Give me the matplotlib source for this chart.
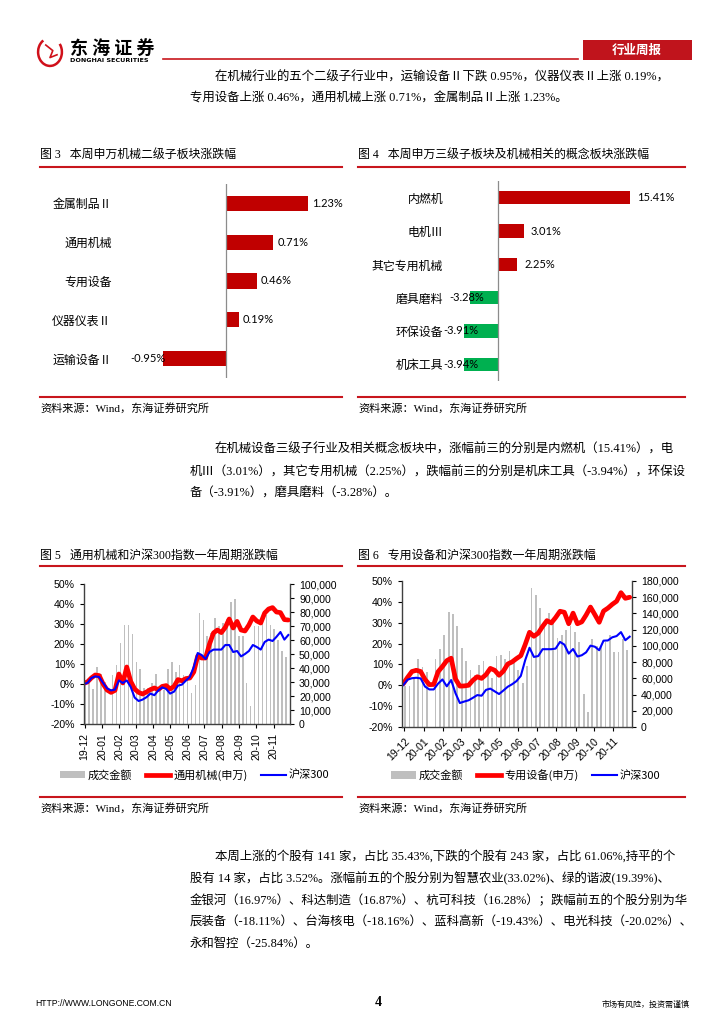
import matplotlib
matplotlib.use('Agg')
import matplotlib.pyplot as plt
import matplotlib.dates as mdates
from matplotlib.lines import Line2D
from matplotlib.patches import Rectangle, Patch, Arc
from matplotlib.ticker import FuncFormatter, MultipleLocator
import numpy as np
import pandas as pd

CJK = ['Noto Sans CJK SC', 'DejaVu Sans']
SERIF = ['Liberation Serif', 'Noto Sans CJK SC']
SANS = ['Liberation Sans', 'Noto Sans CJK SC']
plt.rcParams['font.family'] = SANS
plt.rcParams['axes.unicode_minus'] = False

# 图3 二级子板块
cats3 = ['金属制品Ⅱ', '通用机械', '专用设备', '仪器仪表Ⅱ', '运输设备Ⅱ']
vals3 = [1.23, 0.71, 0.46, 0.19, -0.95]

# 图4 三级子板块及概念板块
cats4 = ['内燃机', '电机Ⅲ', '其它专用机械', '磨具磨料', '环保设备', '机床工具']
vals4 = [15.41, 3.01, 2.25, -3.28, -3.91, -3.94]

# 图5 / 图6 周度数据
line_dates = pd.date_range('2019-11-29', periods=53, freq='7D')
bar_dates = pd.date_range('2019-12-02', periods=52, freq='7D')

red5 = [0.3, 1, 3, 4.5, 4.2, 0, -3, -4.2, -3.2, 5,
        0.5, 8.5, 1.3, -2.5, -4.2, -5, -4, -2.8, -2, -2.8,
        -1.2, -0.8, -2.5, -1.2, 2.2, 1.6, 2.7, 3, 6, 14,
        13, 13, 20, 25.5, 27, 25.7, 28.3, 32.5, 28, 31.3,
        27, 26.5, 29.5, 33.5, 31.5, 30.5, 35.5, 37.5, 38.2, 36,
        35.7, 32.2, 32]
blue5 = [0, 0.5, 3, 3.8, 3.5, 0.5, -2.2, -3.2, -2.8, 1.8,
         0.5, 1.8, -1.5, -6.8, -8.5, -7.8, -6.6, -4.8, -5.6, -3.2,
         -1.7, -2.5, -4.8, -3.8, -0.8, -0.3, 1.7, 3.5, 8.5, 15.5,
         14.5, 12.5, 16, 17.2, 17.2, 17.2, 19.5, 19.5, 16, 16.5,
         13.8, 15, 16.5, 19.5, 18.5, 17.2, 21, 22.2, 21.5, 23.6,
         26, 22.2, 24.5]
vol5_k = [29, 33, 25, 41, 36, 30, np.nan, 35, 42, 58,
          71, 71, 64, 44, 39, 26, 26, 29, 36, 27,
          24, 39, 44, 37, 42, 35, 34, 22, 28, 79,
          74, 63, 65, 76, 70, 72, 75, 87, 89, 63,
          63, 29, 13, 70, 70, 74, 78, 71, 68, 60,
          52, 48]

red6 = [0.7, 3.8, 6.6, 7.2, 6.6, 2.8, 0.3, 0.4, 6.5, 9,
        11.8, 13, 3, -0.4, -0.3, 0, 2.4, 4.1, 3.3, 5.1,
        8.1, 7.2, 4.8, 6.8, 10.2, 11.2, 12.8, 14.2, 19.5, 25.4,
        23.5, 25, 28.2, 31, 29.9, 32.5, 35.5, 35, 29.5, 34.6,
        29.5, 30.4, 33.7, 37.5, 33.9, 30.2, 35.6, 37, 38.8, 40.3,
        44.4, 41.7, 42.2]
blue6 = [0.1, 2.7, 3.4, 3.6, 3.3, -0.6, -2, -2, 0.8, 2.8,
         -0.5, 2.5, -3.8, -8.5, -7.8, -7.2, -6, -4.7, -5, -2.2,
         -1.6, -2.9, -4.2, -2.5, -0.7, 0.5, 2, 4.5, 12, 18,
         13.6, 14, 17.3, 17.3, 17.3, 17.6, 20.8, 19.5, 15.2, 17.4,
         13.8, 14.4, 15.8, 19, 18.5, 16.8, 21.4, 21.5, 23, 23.6,
         25.5, 21.6, 23.3]
vol6_k = [50, 51, 60, 84, 74, 68, np.nan, 84, 96, 114,
          142, 139, 125, 97, 81, 70, 64, 77, 81, 72,
          60, 87, 89, 84, 94, 79, 70, 54, 75, 171,
          163, 147, 125, 140, 132, 110, 114, 120, 125, 117,
          105, 41, 19, 108, 100, 100, 105, 113, 93, 93,
          108, 95]

para1 = ['在机械行业的五个二级子行业中，运输设备Ⅱ下跌 0.95%，仪器仪表Ⅱ上涨 0.19%，',
         '专用设备上涨 0.46%，通用机械上涨 0.71%，金属制品Ⅱ上涨 1.23%。']
para2 = ['在机械设备三级子行业及相关概念板块中，涨幅前三的分别是内燃机（15.41%），电',
         '机Ⅲ（3.01%），其它专用机械（2.25%），跌幅前三的分别是机床工具（-3.94%），环保设',
         '备（-3.91%），磨具磨料（-3.28%）。']
para3 = ['本周上涨的个股有 141 家，占比 35.43%,下跌的个股有 243 家，占比 61.06%,持平的个',
         '股有 14 家，占比 3.52%。涨幅前五的个股分别为智慧农业(33.02%)、绿的谐波(19.39%)、',
         '金银河（16.97%）、科达制造（16.87%）、杭可科技（16.28%）；跌幅前五的个股分别为华',
         '辰装备（-18.11%）、台海核电（-18.16%）、蓝科高新（-19.43%）、电光科技（-20.02%）、',
         '永和智控（-25.84%）。']

W, H = 724, 1024
RED = '#C8161D'
fig = plt.figure(figsize=(7.24, 10.24), dpi=100)


def box(l, t, r, b):
    return fig.add_axes([l / W, 1 - b / H, (r - l) / W, (b - t) / H])


def ftext(x, y, s, **kw):
    kw.setdefault('va', 'center')
    return fig.text(x / W, 1 - y / H, s, **kw)


def hline(x0, x1, y, color=RED, lw=1.5):
    fig.add_artist(Line2D([x0 / W, x1 / W], [1 - y / H, 1 - y / H], color=color, lw=lw))


def paragraph(lines, y0, step=22):
    for i, s in enumerate(lines):
        x = 215 if i == 0 else 190
        ftext(x, y0 + i * step, s, fontsize=8.95, family=SERIF)


# ---- header ----
emb = box(36, 36, 64, 68)
emb.set_xlim(-1, 1)
emb.set_ylim(-1.15, 1.15)
emb.axis('off')
emb.add_patch(Arc((0, 0), 1.7, 2.0, theta1=120, theta2=400, color='#D0101A', lw=1.8))
emb.plot([-0.3, 0.2, 0.0, 0.5], [0.5, 0.1, -0.4, -0.2], color='#D0101A', lw=1.2)
ftext(70, 48, '东 海 证 券', fontsize=13, family=CJK, fontweight='bold')
ftext(70, 60, 'DONGHAI SECURITIES', fontsize=4.6, family=['DejaVu Sans'], fontweight='bold')
hline(163, 578, 59, lw=1.2)
fig.add_artist(Rectangle((583 / W, 1 - 60 / H), 109 / W, 20 / H, transform=fig.transFigure,
                         facecolor='#C0141C', edgecolor='none'))
ftext(637, 50, '行业周报', fontsize=9, family=CJK, fontweight='bold', color='white', ha='center')

paragraph(para1, 77)

# ---- 图3 / 图4 标题 ----
ftext(40, 156, '图 3   本周申万机械二级子板块涨跌幅', fontsize=8.6, family=SERIF)
ftext(358, 156, '图 4   本周申万三级子板块及机械相关的概念板块涨跌幅', fontsize=8.6, family=SERIF)
for x0, x1 in [(40, 342), (358, 685)]:
    hline(x0, x1, 167)
    hline(x0, x1, 397)
ftext(40, 408, '资料来源：Wind，东海证券研究所', fontsize=8, family=SERIF)
ftext(358, 408, '资料来源：Wind，东海证券研究所', fontsize=8, family=SERIF)


def hbar(ax, cats, vals, colors, xlim, pos_off, neg_off, height, pad):
    y = np.arange(len(cats))
    ax.barh(y, vals, height=height, color=colors)
    ax.set_ylim(len(cats) - 0.5, -0.5)
    ax.set_xlim(*xlim)
    ax.axvline(0, color='#8C8C8C', lw=0.9)
    for s in ax.spines.values():
        s.set_visible(False)
    ax.set_xticks([])
    ax.set_yticks(y)
    ax.set_yticklabels(cats, fontsize=8.6, family=CJK)
    ax.tick_params(axis='y', length=0, pad=pad)
    for yi, v in zip(y, vals):
        if v >= 0:
            ax.annotate(f'{v:.2f}%', (v, yi), xytext=(pos_off, 0), textcoords='offset points',
                        ha='left', va='center', fontsize=8, family=['Lato'])
        else:
            ax.annotate(f'{v:.2f}%', (v, yi), xytext=(neg_off, 0), textcoords='offset points',
                        ha='right', va='center', fontsize=8, family=['Lato'])


ax3 = box(120, 184, 340, 378)
hbar(ax3, cats3, vals3, '#C00000', (-1.59, 1.71), 3, 2, 0.39, 6)

ax4 = box(450, 181, 690, 381)
colors4 = ['#C00000' if v >= 0 else '#00B050' for v in vals4]
hbar(ax4, cats4, vals4, colors4, (-5.6, 22.4), 5, 10, 0.4, 5)

paragraph(para2, 450)

# ---- 图5 / 图6 ----
ftext(40, 556, '图 5   通用机械和沪深300指数一年周期涨跌幅', fontsize=8.6, family=SERIF)
ftext(358, 556, '图 6   专用设备和沪深300指数一年周期涨跌幅', fontsize=8.6, family=SERIF)
for x0, x1 in [(40, 342), (358, 685)]:
    hline(x0, x1, 566)
    hline(x0, x1, 797)
ftext(40, 808, '资料来源：Wind，东海证券研究所', fontsize=8, family=SERIF)
ftext(358, 808, '资料来源：Wind，东海证券研究所', fontsize=8, family=SERIF)


def dual(ax, red, blue, vol_k, vmax, vstep, xlim, rot, red_name, legend_x):
    ax2 = ax.twinx()
    ax2.bar(bar_dates, np.array(vol_k) * 1000, width=2.8, color='#BFBFBF')
    ax2.set_ylim(0, vmax)
    ax2.yaxis.set_major_locator(MultipleLocator(vstep))
    ax2.yaxis.set_major_formatter(FuncFormatter(lambda v, p: f'{v:,.0f}'))
    ax.plot(line_dates, red, color='#FF0000', lw=3.4, solid_capstyle='round')
    ax.plot(line_dates, blue, color='#0000FF', lw=1.5)
    ax.set_zorder(ax2.get_zorder() + 1)
    ax.patch.set_visible(False)
    ax.set_ylim(-20, 50)
    ax.yaxis.set_major_locator(MultipleLocator(10))
    ax.yaxis.set_major_formatter(FuncFormatter(lambda v, p: f'{v:.0f}%'))
    ax.set_xlim(pd.Timestamp(xlim[0]), pd.Timestamp(xlim[1]))
    ax.xaxis.set_major_locator(mdates.MonthLocator())
    ax.xaxis.set_major_formatter(mdates.DateFormatter('%y-%m'))
    for a in (ax, ax2):
        a.spines['top'].set_visible(False)
        for s in a.spines.values():
            s.set_color('#404040')
            s.set_linewidth(1.0)
        a.tick_params(direction='out', length=3, width=0.8, labelsize=7.6, colors='#000000')
    ax.spines['right'].set_visible(False)
    ax2.spines['left'].set_visible(False)
    ax2.spines['bottom'].set_visible(False)
    if rot == 90:
        plt.setp(ax.get_xticklabels(), rotation=90, ha='center')
    else:
        plt.setp(ax.get_xticklabels(), rotation=45, ha='right', rotation_mode='anchor')
    handles = [Patch(facecolor='#BFBFBF', edgecolor='none'),
               Line2D([], [], color='#FF0000', lw=3.4),
               Line2D([], [], color='#0000FF', lw=1.5)]
    fig.legend(handles, ['成交金额', red_name, '沪深300'], loc='center',
               bbox_to_anchor=(legend_x / W, 1 - 775 / H), ncol=3, frameon=False,
               prop={'family': CJK, 'size': 8}, handlelength=2.2, handletextpad=0.3,
               columnspacing=1.2)


ax5 = box(84, 584, 290, 724)
dual(ax5, red5, blue5, vol5_k, 100000, 10000, ('2019-11-30', '2020-11-30'), 90,
     '通用机械(申万)', 195)

ax6 = box(402, 581, 632, 727)
dual(ax6, red6, blue6, vol6_k, 180000, 20000, ('2019-11-27', '2020-11-30 18:00'), 45,
     '专用设备(申万)', 526)

paragraph(para3, 857)

# ---- footer ----
ftext(35, 1004, 'HTTP://WWW.LONGONE.COM.CN', fontsize=6.2, family=['Liberation Sans Narrow', 'Liberation Sans'])
ftext(378, 1003, '4', fontsize=10, family=['Liberation Serif'], fontweight='bold', ha='center')
ftext(690, 1004, '市场有风险，投资需谨慎', fontsize=5.8, family=CJK, ha='right')

fig.savefig('out.png', dpi=100)
